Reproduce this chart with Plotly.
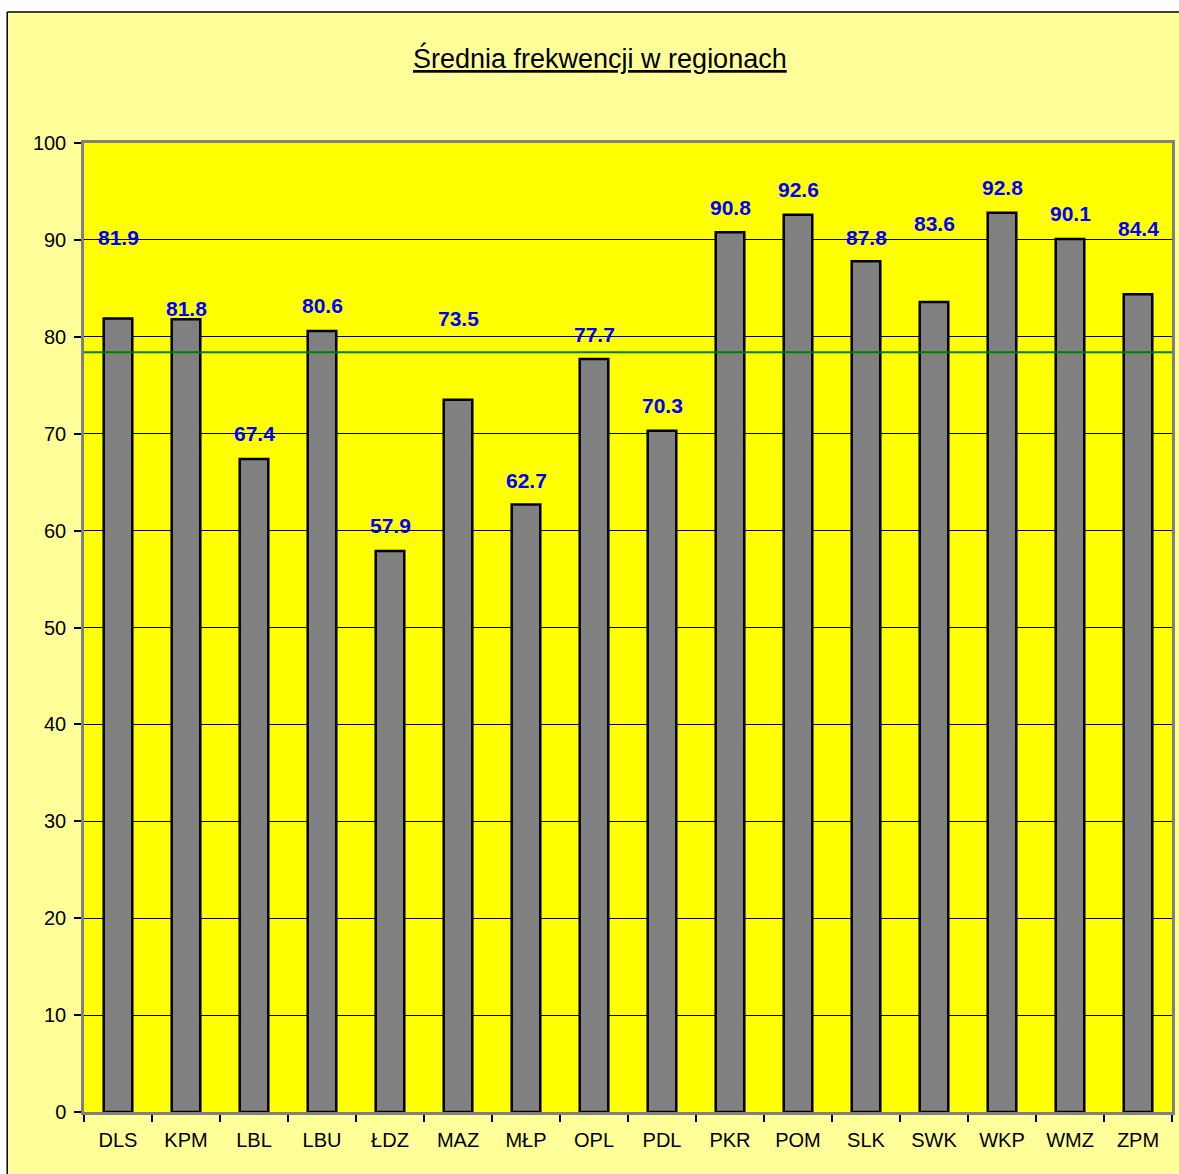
import plotly.graph_objects as go

categories = ["DLS", "KPM", "LBL", "LBU", "ŁDZ", "MAZ", "MŁP", "OPL",
              "PDL", "PKR", "POM", "SLK", "SWK", "WKP", "WMZ", "ZPM"]
values = [81.9, 81.8, 67.4, 80.6, 57.9, 73.5, 62.7, 77.7,
          70.3, 90.8, 92.6, 87.8, 83.6, 92.8, 90.1, 84.4]
reference_line = 78.4
title_text = "Średnia frekwencji w regionach"

# style: label vertical shift (pixels) above bar top
label_shift = [81, 11, 25, 25, 25, 81, 24, 25, 25, 25, 25, 24, 78, 25, 25, 66]

W, H = 1179, 1174
L, R, T, B = 84, 1175, 143, 1112
FONT = "Arial, 'Liberation Sans', sans-serif"

def px2x(px):
    return (px - L) / (R - L)

def px2y(py):
    return (B - py) / (B - T)

fig = go.Figure()
fig.add_trace(go.Bar(
    x=categories, y=values,
    marker=dict(color="#808080", line=dict(color="black", width=2.5)),
    hoverinfo="x+y",
))

annotations = []
for c, v, s in zip(categories, values, label_shift):
    annotations.append(dict(
        x=c, y=v, xref="x", yref="y", text=f"{v:.1f}", showarrow=False,
        yshift=s, yanchor="middle", xshift=0,
        font=dict(family=FONT, size=21, color="#0000FF", weight="bold"),
    ))
annotations.append(dict(
    x=px2x(601.5), y=px2y(58), xref="paper", yref="paper",
    text="<u>" + title_text + "</u>", showarrow=False,
    xanchor="center", yanchor="middle",
    font=dict(family=FONT, size=27, color="black"),
))

shapes = [
    # white margins outside the outer chart border
    dict(type="rect", xref="paper", yref="paper", x0=px2x(-20), x1=px2x(7),
         y0=px2y(1200), y1=px2y(-20), fillcolor="white", line=dict(width=0), layer="below"),
    dict(type="rect", xref="paper", yref="paper", x0=px2x(-20), x1=px2x(1200),
         y0=px2y(12), y1=px2y(-20), fillcolor="white", line=dict(width=0), layer="below"),
    dict(type="line", xref="paper", yref="paper", x0=px2x(7), x1=px2x(7),
         y0=px2y(1200), y1=px2y(12), line=dict(color="black", width=1.5)),
    dict(type="line", xref="paper", yref="paper", x0=px2x(7), x1=px2x(1200),
         y0=px2y(12), y1=px2y(12), line=dict(color="black", width=1.5)),
    # reference line
    dict(type="line", xref="paper", yref="y", x0=0, x1=1,
         y0=reference_line, y1=reference_line, line=dict(color="#008000", width=2)),
]

fig.update_layout(
    width=W, height=H,
    margin=dict(l=L, r=W - R, t=T, b=H - B, pad=0),
    paper_bgcolor="#FFFF99", plot_bgcolor="#FFFF00",
    showlegend=False, bargap=0.58,
    annotations=annotations, shapes=shapes,
    font=dict(family=FONT, size=20, color="black"),
)
fig.update_xaxes(
    type="category", tickson="boundaries", ticks="outside", ticklen=7,
    tickcolor="black", tickwidth=1.5, showgrid=False,
    showline=True, linecolor="#808080", linewidth=2.5, mirror=True,
    tickfont=dict(family=FONT, size=20, color="black"), ticklabelstandoff=8,
)
fig.update_yaxes(
    range=[0, 100], dtick=10, ticks="outside", ticklen=7,
    tickcolor="black", tickwidth=1.5,
    showgrid=True, gridcolor="black", gridwidth=1, zeroline=False,
    showline=True, linecolor="#808080", linewidth=2.5, mirror=True,
    tickfont=dict(family=FONT, size=20, color="black"), ticklabelstandoff=4,
)

fig.write_html(
    "out.html",
    config={"displayModeBar": False},
    post_script="document.body.style.margin='0px';document.body.style.padding='0px';",
)
